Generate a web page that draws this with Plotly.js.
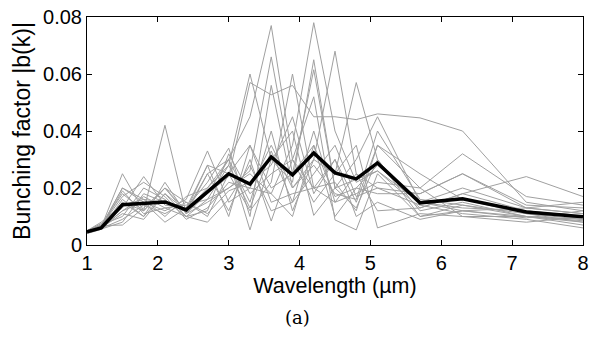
<!DOCTYPE html>
<html>
<head>
<meta charset="utf-8">
<script src="https://cdn.plot.ly/plotly-3.0.1.min.js"></script>
<style>html,body{margin:0;padding:0;background:#fff;}#chart{width:595px;height:337px;}</style>
</head>
<body>
<div id="chart"></div>
<script>
// Wavelength grid (µm)
const wavelength = [1.0, 1.2, 1.5, 1.8, 2.1, 2.4, 2.7, 3.0, 3.3, 3.6, 3.9, 4.2, 4.5, 4.8, 5.1, 5.7, 6.3, 7.2, 8.0];

// Individual bunching-factor curves (gray)
const run01 = [.0050,.0070,.0180,.0120,.0200,.0110,.0250,.0300,.0450,.0770,.0300,.0200,.0150,.0250,.0120,.0130,.0180,.0120,.0100];
const run02 = [.0045,.0060,.0120,.0170,.0130,.0140,.0160,.0200,.0250,.0180,.0350,.0780,.0400,.0220,.0260,.0150,.0120,.0130,.0110];
const run03 = [.0040,.0055,.0160,.0100,.0180,.0120,.0200,.0280,.0600,.0300,.0220,.0650,.0200,.0130,.0300,.0100,.0140,.0100,.0080];
const run04 = [.0050,.0080,.0140,.0160,.0150,.0120,.0180,.0240,.0570,.0527,.0560,.0450,.0450,.0440,.0460,.0446,.0400,.0150,.0120];
const run05 = [.0045,.0065,.0200,.0150,.0120,.0160,.0330,.0150,.0200,.0350,.0200,.0300,.0680,.0250,.0200,.0180,.0250,.0140,.0130];
const run06 = [.0048,.0070,.0100,.0200,.0160,.0100,.0120,.0320,.0180,.0250,.0300,.0150,.0250,.0570,.0300,.0120,.0150,.0100,.0090];
const run07 = [.0050,.0060,.0150,.0120,.0420,.0110,.0150,.0200,.0260,.0660,.0250,.0350,.0100,.0200,.0280,.0150,.0130,.0120,.0100];
const run08 = [.0042,.0058,.0090,.0140,.0110,.0150,.0100,.0250,.0120,.0220,.0600,.0200,.0300,.0150,.0350,.0200,.0320,.0170,.0140];
const run09 = [.0046,.0062,.0250,.0120,.0200,.0120,.0280,.0100,.0350,.0200,.0250,.0615,.0200,.0230,.0260,.0130,.0180,.0240,.0170];
const run10 = [.0050,.0075,.0130,.0240,.0140,.0130,.0220,.0340,.0100,.0560,.0200,.0280,.0180,.0160,.0400,.0160,.0140,.0110,.0080];
const run11 = [.0044,.0060,.0110,.0090,.0180,.0100,.0080,.0160,.0280,.0120,.0150,.0250,.0350,.0170,.0200,.0140,.0110,.0090,.0060];
const run12 = [.0048,.0064,.0200,.0160,.0100,.0170,.0200,.0300,.0053,.0300,.0400,.0104,.0200,.0300,.0450,.0150,.0200,.0130,.0110];
const run13 = [.0046,.0056,.0080,.0180,.0150,.0120,.0250,.0120,.0300,.0084,.0300,.0520,.0088,.0053,.0250,.0100,.0120,.0100,.0070];
const run14 = [.0043,.0060,.0150,.0100,.0220,.0110,.0180,.0300,.0150,.0400,.0120,.0300,.0250,.0350,.0060,.0110,.0100,.0080,.0100];
const run15 = [.0047,.0066,.0170,.0220,.0170,.0090,.0130,.0220,.0200,.0180,.0100,.0350,.0170,.0200,.0180,.0180,.0250,.0130,.0150];
const run16 = [.0044,.0058,.0120,.0150,.0080,.0130,.0280,.0250,.0350,.0150,.0180,.0200,.0220,.0120,.0350,.0250,.0160,.0110,.0090];
const run17 = [.0049,.0068,.0070,.0130,.0200,.0150,.0110,.0190,.0220,.0280,.0450,.0180,.0300,.0100,.0150,.0090,.0120,.0095,.0120];
const run18 = [.0045,.0060,.0190,.0110,.0130,.0100,.0160,.0280,.0130,.0330,.0150,.0400,.0150,.0180,.0220,.0200,.0100,.0100,.0085];

// Average curve (black)
const meanCurve = [0.0046, 0.0060, 0.0141, 0.0147, 0.0151, 0.0123, 0.0188, 0.0250, 0.0214, 0.0309, 0.0246, 0.0323, 0.0253, 0.0232, 0.0288, 0.0148, 0.0162, 0.0116, 0.0099];

// Tick labels
const xTickVals = [1, 2, 3, 4, 5, 6, 7, 8];
const xTickText = ["1", "2", "3", "4", "5", "6", "7", "8"];
const yTickVals = [0, 0.02, 0.04, 0.06, 0.08];
const yTickText = ["0", "0.02", "0.04", "0.06", "0.08"];

const runs = [run01, run02, run03, run04, run05, run06, run07, run08, run09, run10,
              run11, run12, run13, run14, run15, run16, run17, run18];

const traces = runs.map(r => ({
  x: wavelength, y: r, type: 'scatter', mode: 'lines',
  line: {color: 'rgb(160,160,160)', width: 1}, hoverinfo: 'skip'
}));
traces.push({
  x: wavelength, y: meanCurve, type: 'scatter', mode: 'lines',
  line: {color: '#000', width: 3.5}
});

const font = {family: 'Liberation Sans, Arial, sans-serif', size: 20, color: '#000'};

const layout = {
  width: 595, height: 337,
  margin: {l: 87, r: 12, t: 17, b: 92},
  paper_bgcolor: '#fff', plot_bgcolor: '#fff',
  showlegend: false,
  font: font,
  xaxis: {
    range: [1, 8], tickvals: xTickVals, ticktext: xTickText,
    ticks: 'inside', ticklen: 5, tickcolor: '#000', tickwidth: 1,
    showline: true, linecolor: '#000', linewidth: 1, mirror: 'ticks',
    showgrid: false, zeroline: false,
    tickfont: font,
    title: {text: 'Wavelength (µm)', font: {family: font.family, size: 21.5, color: '#000'}, standoff: 1}
  },
  yaxis: {
    range: [0, 0.08], tickvals: yTickVals, ticktext: yTickText,
    ticks: 'inside', ticklen: 5, tickcolor: '#000', tickwidth: 1,
    showline: true, linecolor: '#000', linewidth: 1, mirror: 'ticks',
    showgrid: false, zeroline: false,
    tickfont: font,
    title: {text: 'Bunching factor |b(k)|', font: {family: font.family, size: 23, color: '#000'}, standoff: 6}
  },
  annotations: [{
    text: '(a)', xref: 'paper', yref: 'paper', x: 0.425, y: -0.32,
    xanchor: 'center', yanchor: 'middle', showarrow: false,
    font: {family: 'DejaVu Serif, Liberation Serif, serif', size: 18, color: '#000'}
  }]
};

Plotly.newPlot('chart', traces, layout, {displayModeBar: false, staticPlot: true});
</script>
</body>
</html>
